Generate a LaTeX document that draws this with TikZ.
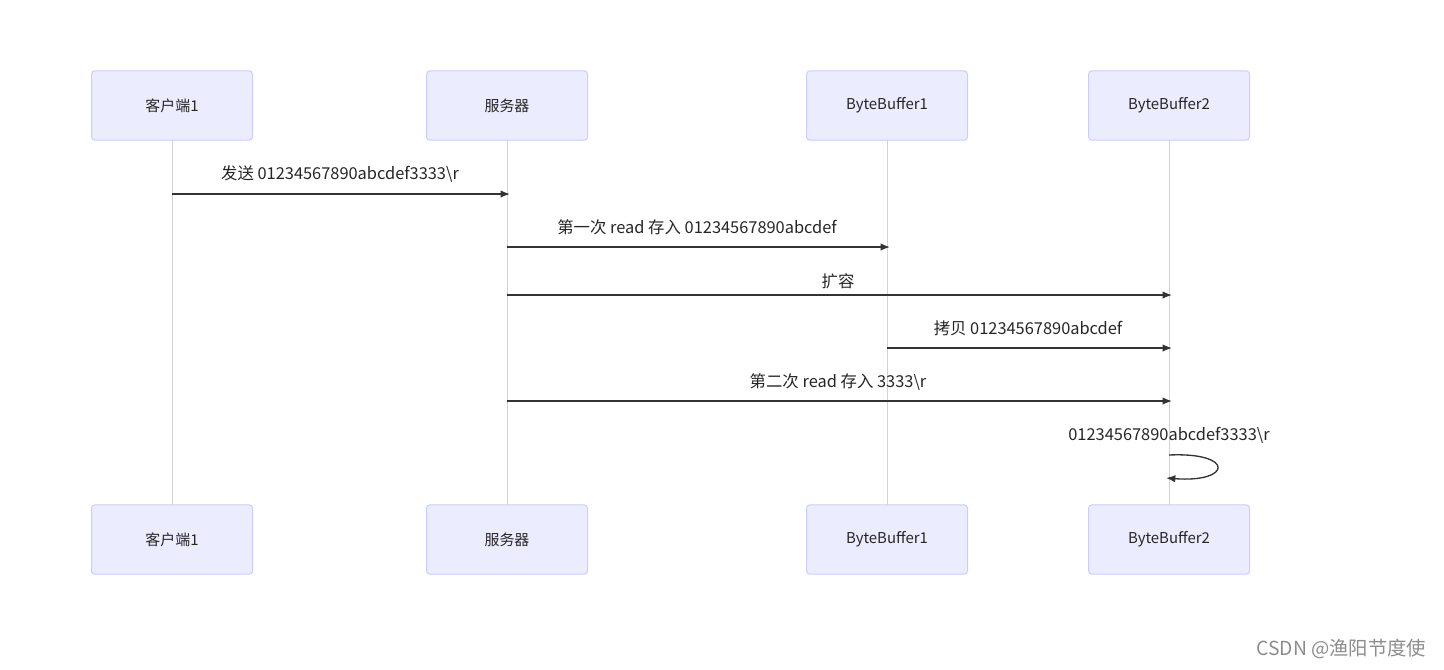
\documentclass[tikz,border=0pt]{standalone}
\usepackage{fontspec}
\setmainfont{Noto Sans CJK SC}
\usetikzlibrary{arrows.meta}
\definecolor{actfill}{HTML}{ECECFF}
\definecolor{actdraw}{HTML}{CCCCFF}
\definecolor{lifeln}{HTML}{D3D3D3}
\definecolor{msg}{HTML}{333333}
\tikzset{
  actor/.style={draw=actdraw, fill=actfill, rounded corners=2.5pt, minimum width=120.75pt, minimum height=52pt, line width=0.75pt, font=\fontsize{11.2pt}{13pt}\selectfont, text=black!85},
  lifeline/.style={draw=lifeln, line width=0.75pt},
  message/.style={draw=msg, line width=1pt, -{Latex[length=7pt,width=5.5pt]}},
  mlabel/.style={font=\fontsize{12.3pt}{14pt}\selectfont, text=black!85},
}
\begin{document}
\begin{tikzpicture}[x=0.75pt,y=-0.75pt]
\useasboundingbox (0,0) rectangle (1444,669);
% lifelines
\coordinate (l1t) at (172,140); \coordinate (l1b) at (172,505);
\coordinate (l2t) at (507,140); \coordinate (l2b) at (507,505);
\coordinate (l3t) at (887,140); \coordinate (l3b) at (887,505);
\coordinate (l4t) at (1169,140); \coordinate (l4b) at (1169,505);
\draw[lifeline] (l1t) -- (l1b);
\draw[lifeline] (l2t) -- (l2b);
\draw[lifeline] (l3t) -- (l3b);
\draw[lifeline] (l4t) -- (l4b);
% actors
\node[actor] (a1) at (172,105.5) {客户端1};
\node[actor] (a2) at (507,105.5) {服务器};
\node[actor] (a3) at (887,105.5) {ByteBuffer1};
\node[actor] (a4) at (1169,105.5) {ByteBuffer2};
\node[actor] (b1) at (172,539.5) {客户端1};
\node[actor] (b2) at (507,539.5) {服务器};
\node[actor] (b3) at (887,539.5) {ByteBuffer1};
\node[actor] (b4) at (1169,539.5) {ByteBuffer2};
% messages
\coordinate (m1s) at (172,194); \coordinate (m1e) at (510,194);
\draw[message] (m1s) -- (m1e);
\node[mlabel] (t1) at (340,174) {发送 01234567890abcdef3333\textbackslash r};
\coordinate (m2s) at (507,247); \coordinate (m2e) at (890,247);
\draw[message] (m2s) -- (m2e);
\node[mlabel] (t2) at (697,227) {第一次 read 存入 01234567890abcdef};
\coordinate (m3s) at (507,295); \coordinate (m3e) at (1172,295);
\draw[message] (m3s) -- (m3e);
\node[mlabel] (t3) at (838,281) {扩容};
\coordinate (m4s) at (887,348); \coordinate (m4e) at (1172,348);
\draw[message] (m4s) -- (m4e);
\node[mlabel] (t4) at (1028,328) {拷贝 01234567890abcdef};
\coordinate (m5s) at (507,401); \coordinate (m5e) at (1172,401);
\draw[message] (m5s) -- (m5e);
\node[mlabel] (t5) at (838,382) {第二次 read 存入 3333\textbackslash r};
% self message
\coordinate (s1) at (1169,455); \coordinate (s2) at (1166,478);
\draw[message] (s1) .. controls (1235,452) and (1232,483) .. (s2);
\node[mlabel] (t6) at (1169,435) {01234567890abcdef3333\textbackslash r};
% watermark
\node[font=\fontsize{14.5pt}{17pt}\selectfont, text=black!45, anchor=east] (wm) at (1431,649) {CSDN @渔阳节度使};
\end{tikzpicture}
\end{document}
